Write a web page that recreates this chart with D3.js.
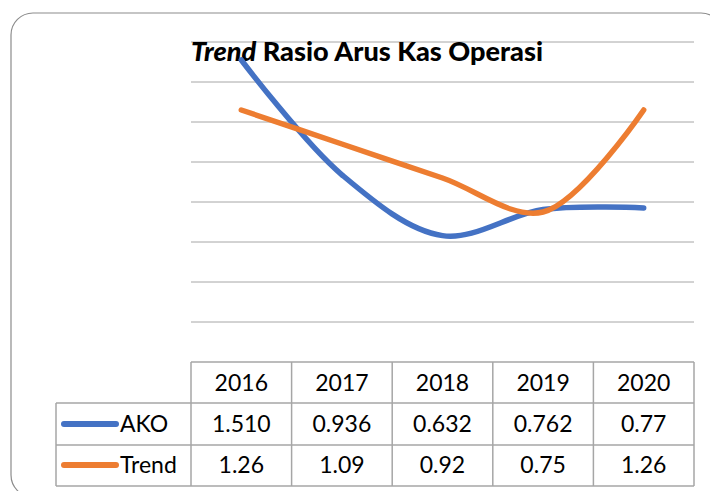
<!DOCTYPE html>
<html><head><meta charset="utf-8">
<script src="https://cdn.jsdelivr.net/npm/d3@7"></script>
<style>body{margin:0;background:#fff}svg{display:block}text{font-family:Lato,"Open Sans",sans-serif}</style>
</head><body>
<svg id="c" width="710" height="491"></svg>
<script>
const years = ["2016","2017","2018","2019","2020"];
const akoValues = [1.510, 0.936, 0.632, 0.762, 0.77];
const trendValues = [1.26, 1.09, 0.92, 0.75, 1.26];
const akoLabels = ["1.510","0.936","0.632","0.762","0.77"];
const trendLabels = ["1.26","1.09","0.92","0.75","1.26"];
const gridTicks = [0.2,0.4,0.6,0.8,1.0,1.2,1.4,1.6];
const seriesNames = ["AKO","Trend"];
const colors = ["#4472C4","#ED7D31"];

const svg = d3.select("#c");
svg.append("rect").attr("x",11).attr("y",13).attr("width",712).attr("height",484)
  .attr("rx",22).attr("fill","none").attr("stroke","#8c8c8c").attr("stroke-width",1.2);

const x = d3.scaleBand().domain(years).range([191,694]);
const y = d3.scaleLinear().domain([0,1.6]).range([362,42]);

// gridlines
svg.append("g").selectAll("line").data(gridTicks).join("line")
  .attr("x1",191).attr("x2",694).attr("y1",d=>y(d)).attr("y2",d=>y(d))
  .attr("stroke","#a6a6a6").attr("stroke-width",1);

// title
const title = svg.append("text").attr("x",191).attr("y",61).attr("font-size",26).attr("font-weight","900").attr("fill","#000");
title.append("tspan").attr("font-style","italic").text("Trend");
title.append("tspan").text(" Rasio Arus Kas Operasi");
title.attr("textLength",352).attr("lengthAdjust","spacingAndGlyphs");

// lines
const line = d3.line().x((d,i)=>x(years[i])+x.bandwidth()/2).y(d=>y(d)).curve(d3.curveCatmullRom.alpha(0.5));
[akoValues,trendValues].forEach((vals,k)=>{
  svg.append("path").attr("d",line(vals)).attr("fill","none").attr("stroke",colors[k])
    .attr("stroke-width",5.5).attr("stroke-linecap","round").attr("stroke-linejoin","round");
});

// data table
const tableStroke = "#a6a6a6";
const g = svg.append("g");
g.append("line").attr("x1",191).attr("x2",694).attr("y1",362).attr("y2",362).attr("stroke",tableStroke).attr("stroke-width",1.5);
[403,445,486].forEach(yy=>g.append("line").attr("x1",56).attr("x2",694).attr("y1",yy).attr("y2",yy).attr("stroke",tableStroke).attr("stroke-width",1.5));
const colEdges = years.map(d=>x(d)).concat([694]);
colEdges.forEach(xx=>g.append("line").attr("x1",xx).attr("x2",xx).attr("y1",362).attr("y2",486).attr("stroke",tableStroke).attr("stroke-width",1.5));
g.append("line").attr("x1",56).attr("x2",56).attr("y1",403).attr("y2",486).attr("stroke",tableStroke).attr("stroke-width",1.5);

const cellText = (xx,yy,t)=>g.append("text").attr("x",xx).attr("y",yy).attr("text-anchor","middle")
  .attr("font-size",23).attr("fill","#000").text(t);
years.forEach((yr,i)=>{
  const cx = x(yr)+x.bandwidth()/2;
  cellText(cx,391,yr);
  cellText(cx,432,akoLabels[i]);
  cellText(cx,473,trendLabels[i]);
});
[424,465].forEach((yy,k)=>{
  g.append("line").attr("x1",64).attr("x2",116).attr("y1",yy).attr("y2",yy)
    .attr("stroke",colors[k]).attr("stroke-width",6).attr("stroke-linecap","round");
  g.append("text").attr("x",120).attr("y",yy+8).attr("font-size",23).attr("fill","#000").text(seriesNames[k]);
});
</script>
</body></html>
